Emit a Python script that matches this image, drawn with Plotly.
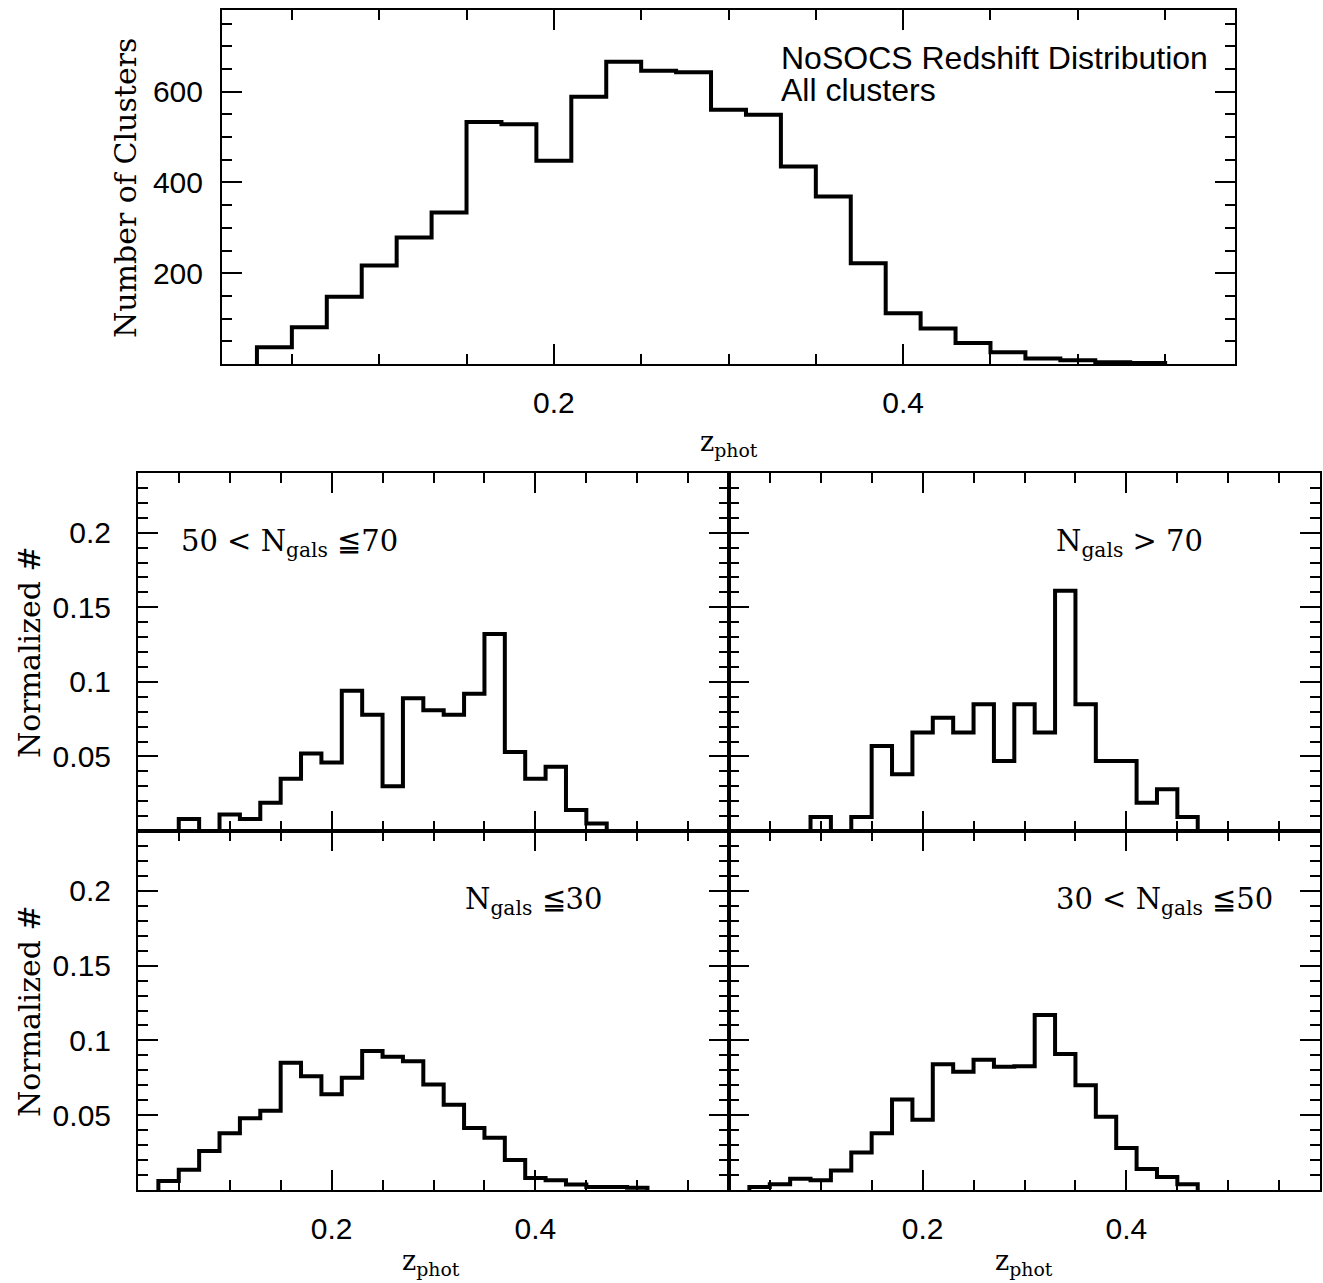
import plotly.graph_objects as go

# ---------------- data ----------------
BIN_WIDTH = 0.02

# All clusters (counts)
all_lo = [0.03, 0.05, 0.07, 0.09, 0.11, 0.13, 0.15, 0.17, 0.19, 0.21, 0.23, 0.25, 0.27,
          0.29, 0.31, 0.33, 0.35, 0.37, 0.39, 0.41, 0.43, 0.45, 0.47, 0.49, 0.51, 0.53]
all_counts = [37, 81, 148, 217, 279, 334, 533, 528, 448, 589, 666, 646, 643,
              560, 549, 435, 369, 222, 112, 78, 46, 26, 12, 8, 4, 2]

# 50 < Ngals <= 70 (normalized)
n50_70_lo = [0.05, 0.07, 0.09, 0.11, 0.13, 0.15, 0.17, 0.19, 0.21, 0.23, 0.25, 0.27,
             0.29, 0.31, 0.33, 0.35, 0.37, 0.39, 0.41, 0.43, 0.45]
n50_70 = [0.008, 0.0, 0.011, 0.008, 0.019, 0.035, 0.052, 0.046, 0.094, 0.078, 0.030, 0.089,
          0.081, 0.078, 0.092, 0.132, 0.053, 0.035, 0.043, 0.014, 0.005]

# Ngals > 70 (normalized)
n70_lo = [0.09, 0.11, 0.13, 0.15, 0.17, 0.19, 0.21, 0.23, 0.25, 0.27, 0.29, 0.31,
          0.33, 0.35, 0.37, 0.39, 0.41, 0.43, 0.45]
n70 = [0.0094, 0.0, 0.0094, 0.057, 0.038, 0.066, 0.076, 0.066, 0.085, 0.047, 0.085, 0.066,
       0.161, 0.085, 0.047, 0.047, 0.019, 0.028, 0.0094]

# Ngals <= 30 (normalized)
n30_lo = [0.03, 0.05, 0.07, 0.09, 0.11, 0.13, 0.15, 0.17, 0.19, 0.21, 0.23, 0.25,
          0.27, 0.29, 0.31, 0.33, 0.35, 0.37, 0.39, 0.41, 0.43, 0.45, 0.47, 0.49]
n30 = [0.006, 0.0136, 0.026, 0.038, 0.048, 0.053, 0.085, 0.076, 0.064, 0.075, 0.093, 0.089,
       0.086, 0.0705, 0.057, 0.0415, 0.035, 0.020, 0.008, 0.0065, 0.0036, 0.002, 0.002, 0.0015]

# 30 < Ngals <= 50 (normalized)
n30_50_lo = [0.03, 0.05, 0.07, 0.09, 0.11, 0.13, 0.15, 0.17, 0.19, 0.21, 0.23, 0.25,
             0.27, 0.29, 0.31, 0.33, 0.35, 0.37, 0.39, 0.41, 0.43, 0.45]
n30_50 = [0.002, 0.0038, 0.0076, 0.0065, 0.013, 0.025, 0.038, 0.0605, 0.047, 0.084, 0.079, 0.087,
          0.0824, 0.0828, 0.117, 0.091, 0.070, 0.049, 0.028, 0.014, 0.0087, 0.0038]

x_range = [0.01, 0.59]
x_tickvals = [0.2, 0.4]
x_ticktext = ["0.2", "0.4"]
top_y_range = [0, 780]
top_y_tickvals = [200, 400, 600]
top_y_ticktext = ["200", "400", "600"]
norm_y_range = [0, 0.24]
norm_y_tickvals = [0.05, 0.1, 0.15, 0.2]
norm_y_ticktext = ["0.05", "0.1", "0.15", "0.2"]

# ---------------- layout helpers ----------------
W, H = 1323, 1283
def fx(px):
    return px / W
def fy(py):
    return 1 - py / H

SANS = "Liberation Sans, Arial, sans-serif"
SERIF = "DejaVu Serif, Liberation Serif, serif"


def step_xy(lo, vals):
    edges = list(lo) + [lo[-1] + BIN_WIDTH]
    xs = [edges[0]] + edges
    ys = [0] + list(vals) + [0]
    return xs, ys


fig = go.Figure()
panels = [
    (all_lo, all_counts, "x", "y"),
    (n50_70_lo, n50_70, "x2", "y2"),
    (n70_lo, n70, "x3", "y3"),
    (n30_lo, n30, "x4", "y4"),
    (n30_50_lo, n30_50, "x5", "y5"),
]
for lo, vals, xa, ya in panels:
    xs, ys = step_xy(lo, vals)
    fig.add_trace(go.Scatter(x=xs, y=ys, mode="lines", line_shape="hv",
                             line=dict(color="black", width=4),
                             xaxis=xa, yaxis=ya, hoverinfo="skip",
                             showlegend=False))


def axis(domain, anchor, rng, tickvals, ticktext, minor_dtick, show_labels, standoff):
    return dict(
        domain=domain, anchor=anchor, range=rng,
        showline=True, linecolor="black", linewidth=2, mirror="ticks",
        ticks="inside", ticklen=20, tickwidth=1.5, tickcolor="black",
        tickmode="array", tickvals=tickvals, ticktext=ticktext,
        showticklabels=show_labels, ticklabelstandoff=standoff,
        tickfont=dict(family=SANS, size=30, color="black"),
        showgrid=False, zeroline=False, fixedrange=True,
        minor=dict(tickmode="linear", tick0=0, dtick=minor_dtick, ticks="inside",
                   ticklen=10, tickwidth=1.5, tickcolor="black", showgrid=False),
    )

# pixel frames
top_x = [fx(222), fx(1235)]
top_y = [fy(364), fy(10)]
left_x = [fx(138), fx(729)]
right_x = [fx(729), fx(1320)]
row1_y = [fy(831), fy(473)]
row2_y = [fy(1190), fy(831)]

XS = 11
fig.update_layout(
    width=W, height=H, margin=dict(l=0, r=0, t=0, b=0),
    paper_bgcolor="white", plot_bgcolor="white", showlegend=False,
    xaxis=axis(top_x, "y", x_range, x_tickvals, x_ticktext, 0.05, True, XS),
    yaxis=axis(top_y, "x", top_y_range, top_y_tickvals, top_y_ticktext, 50, True, 11),
    xaxis2=axis(left_x, "y2", x_range, x_tickvals, x_ticktext, 0.05, False, XS),
    yaxis2=axis(row1_y, "x2", norm_y_range, norm_y_tickvals, norm_y_ticktext, 0.01, True, 19),
    xaxis3=axis(right_x, "y3", x_range, x_tickvals, x_ticktext, 0.05, False, XS),
    yaxis3=axis(row1_y, "x3", norm_y_range, norm_y_tickvals, norm_y_ticktext, 0.01, False, 19),
    xaxis4=axis(left_x, "y4", x_range, x_tickvals, x_ticktext, 0.05, True, XS),
    yaxis4=axis(row2_y, "x4", norm_y_range, norm_y_tickvals, norm_y_ticktext, 0.01, True, 19),
    xaxis5=axis(right_x, "y5", x_range, x_tickvals, x_ticktext, 0.05, True, XS),
    yaxis5=axis(row2_y, "x5", norm_y_range, norm_y_tickvals, norm_y_ticktext, 0.01, False, 19),
)


def note(text, x, y, size, family, xanchor="left", yanchor="middle", angle=0):
    fig.add_annotation(text=text, x=fx(x), y=fy(y), xref="paper", yref="paper",
                       xanchor=xanchor, yanchor=yanchor, showarrow=False,
                       textangle=angle, font=dict(family=family, size=size, color="black"))

# axis titles
note("Number of Clusters", 125, 188, 30, SERIF, xanchor="center", angle=-90)
note("Normalized #", 29, 652, 30, SERIF, xanchor="center", angle=-90)
note("Normalized #", 29, 1011, 30, SERIF, xanchor="center", angle=-90)
note("z<sub>phot</sub>", 729, 443, 27, SERIF, xanchor="center")
note("z<sub>phot</sub>", 431, 1282, 27, SERIF, xanchor="center", yanchor="bottom")
note("z<sub>phot</sub>", 1024, 1282, 27, SERIF, xanchor="center", yanchor="bottom")

# panel labels
note("NoSOCS Redshift Distribution", 779, 58, 32, SANS)
note("All clusters", 779, 90, 32, SANS)
note("50 &lt; N<sub>gals</sub> ≦70", 179, 543, 29, SERIF)
note("N<sub>gals</sub> &gt; 70", 1054, 543, 29, SERIF)
note("N<sub>gals</sub> ≦30", 463, 901, 29, SERIF)
note("30 &lt; N<sub>gals</sub> ≦50", 1054, 901, 29, SERIF)

fig.write_html("out.html")
